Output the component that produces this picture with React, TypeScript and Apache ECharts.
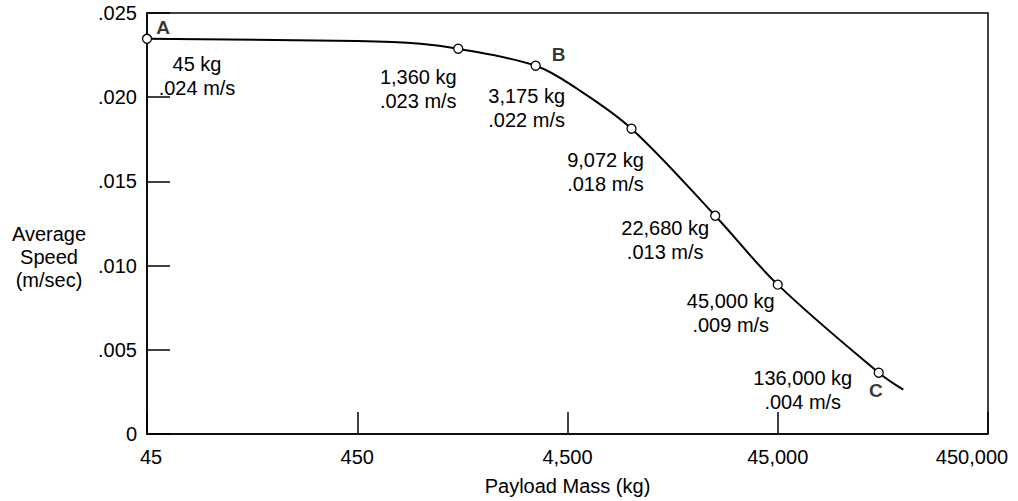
import React, { useEffect, useRef } from "react";
import * as echarts from "echarts";

// Labelled measurement points (payload mass in kg, average speed in m/s)
const pointMasses = [45, 1360, 3175, 9072, 22680, 45000, 136000];
const pointSpeeds = [0.02347, 0.02288, 0.02187, 0.01813, 0.01296, 0.00887, 0.00364];
const speedLabels = [".024 m/s", ".023 m/s", ".022 m/s", ".018 m/s", ".013 m/s", ".009 m/s", ".004 m/s"];

// Curve
const curveMasses = [45, 450, 900, 1360, 3175, 5000, 9072, 22680, 45000, 136000, 178000];
const curveSpeeds = [0.02347, 0.02333, 0.02318, 0.02288, 0.02187, 0.0205, 0.01813, 0.01296, 0.00887, 0.00364, 0.00263];

// Letter markers on the curve
const letterNames = ["A", "B", "C"];
const letterPointIndex = [0, 2, 6];

// Axis ticks: x is logarithmic, one decade per tick, starting at 45 kg
const xBaseMass = 45;
const xDecades = 4;
const yMin = 0;
const yMax = 0.025;
const yInterval = 0.005;

const yTitleLines = ["Average", "Speed", "(m/sec)"];
const xTitle = "Payload Mass (kg)";

// Layout tables (label offsets in px from each point)
const labelOffsets = [
  [50, 37],
  [-40, 40],
  [-9, 42],
  [-26, 43],
  [-50, 24],
  [-47, 28],
  [-76, 17],
];
const letterOffsets = [
  [16, -11],
  [23, -11],
  [-3, 18],
];

const FONT = '"Liberation Sans", Arial, Helvetica, sans-serif';
const INK = "#000";
const FS = 20;

function fmtMass(m: number): string {
  return Math.round(m).toLocaleString("en-US");
}

export default function App() {
  const ref = useRef<HTMLDivElement>(null);

  useEffect(() => {
    document.body.style.margin = "0";
    if (!ref.current) return;
    const chart = echarts.init(ref.current, undefined, { renderer: "svg" });

    // decades above the base mass
    const lg = (m: number) => Math.log10(m / xBaseMass);

    const curveData = curveMasses.map((m, i) => [lg(m), curveSpeeds[i]]);
    const pointData = pointMasses.map((m, i) => ({
      value: [lg(m), pointSpeeds[i]],
      label: { offset: labelOffsets[i] },
    }));
    const letterData = letterNames.map((name, k) => {
      const i = letterPointIndex[k];
      return {
        name,
        value: [lg(pointMasses[i]), pointSpeeds[i]],
        label: { offset: letterOffsets[k] },
      };
    });

    chart.setOption({
      animation: false,
      backgroundColor: "#fff",
      textStyle: { fontFamily: FONT, color: INK },
      grid: {
        left: 147,
        right: 30,
        top: 13,
        bottom: 67,
        show: true,
        borderColor: INK,
        borderWidth: 1.5,
        backgroundColor: "transparent",
      },
      graphic: [
        {
          type: "text",
          x: 49,
          y: 257,
          style: {
            text: yTitleLines.join("\n"),
            x: 0,
            y: 0,
            fontSize: 20,
            lineHeight: 23,
            fontFamily: FONT,
            fill: INK,
            align: "center",
            verticalAlign: "middle",
          },
        },
      ],
      xAxis: {
        type: "value",
        min: 0,
        max: xDecades,
        interval: 1,
        name: xTitle,
        nameLocation: "middle",
        nameGap: 42,
        nameTextStyle: { fontSize: FS, color: INK, fontFamily: FONT },
        axisLine: { show: true, lineStyle: { color: INK, width: 1.5 } },
        axisTick: { show: true, inside: true, length: 22, lineStyle: { color: INK, width: 1.5 } },
        splitLine: { show: false },
        axisLabel: {
          fontSize: FS,
          color: INK,
          fontFamily: FONT,
          margin: 13,
          formatter: (v: number) => {
            const s = fmtMass(xBaseMass * Math.pow(10, v));
            if (Math.abs(v - xDecades) < 1e-6) return "{mx|" + s + "}";
            if (Math.abs(v) < 1e-6) return "{mn|" + s + "}";
            return s;
          },
          rich: {
            mx: { fontSize: FS, color: INK, fontFamily: FONT, padding: [0, 32, 0, 0] },
            mn: { fontSize: FS, color: INK, fontFamily: FONT, padding: [0, 0, 0, 8] },
          },
        },
      },
      yAxis: {
        type: "value",
        min: yMin,
        max: yMax,
        interval: yInterval,
        axisLine: { show: true, lineStyle: { color: INK, width: 1.5 } },
        axisTick: { show: true, inside: true, length: 23, lineStyle: { color: INK, width: 1.5 } },
        splitLine: { show: false },
        axisLabel: {
          fontSize: FS,
          color: INK,
          fontFamily: FONT,
          margin: 10,
          formatter: (v: number) => (v === 0 ? "0" : v.toFixed(3).replace(/^0/, "")),
        },
      },
      series: [
        {
          type: "line",
          data: curveData,
          showSymbol: false,
          smooth: 0.35,
          lineStyle: { color: INK, width: 2 },
          silent: true,
          z: 2,
        },
        {
          type: "scatter",
          data: pointData,
          symbol: "circle",
          symbolSize: 9,
          itemStyle: { color: "#fff", borderColor: INK, borderWidth: 1.3, opacity: 1 },
          label: {
            show: true,
            position: "inside",
            fontSize: FS,
            lineHeight: 24,
            color: INK,
            fontFamily: FONT,
            align: "center",
            verticalAlign: "middle",
            formatter: (p: any) =>
              fmtMass(pointMasses[p.dataIndex]) + " kg\n" + speedLabels[p.dataIndex],
          },
          z: 3,
        },
        {
          type: "scatter",
          data: letterData,
          symbolSize: 0,
          itemStyle: { color: "transparent" },
          label: {
            show: true,
            position: "inside",
            fontSize: 19,
            fontWeight: "bold",
            color: INK,
            fontFamily: FONT,
            align: "center",
            verticalAlign: "middle",
            formatter: (p: any) => p.name,
          },
          z: 4,
        },
      ],
    });

    return () => chart.dispose();
  }, []);

  return <div ref={ref} style={{ width: 1018, height: 501 }} />;
}
